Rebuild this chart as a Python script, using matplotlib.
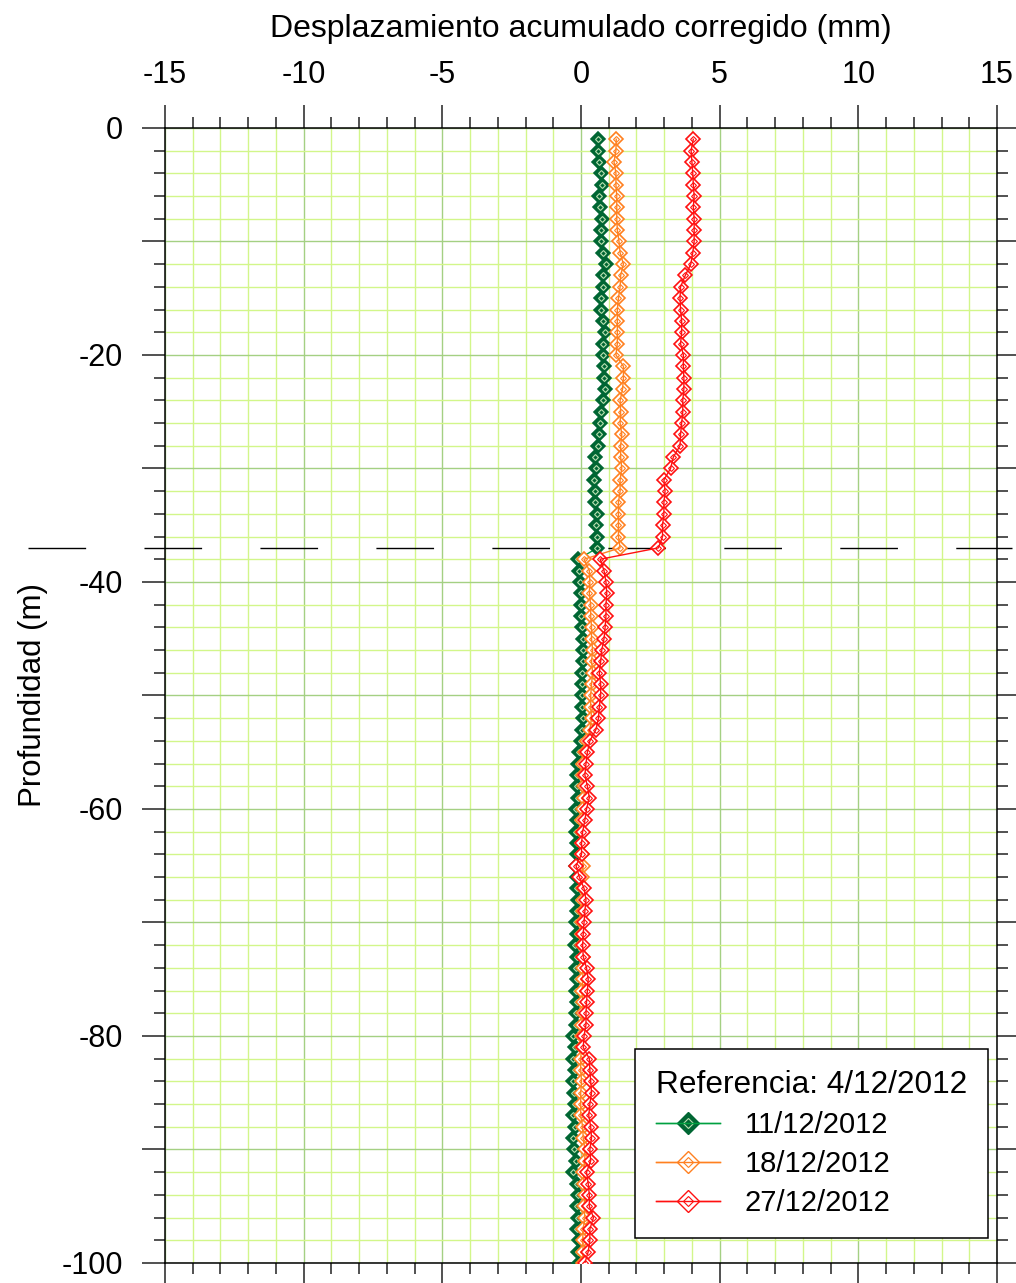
#!/usr/bin/env python

import numpy as np
import matplotlib as mpl
import matplotlib.pyplot as plt
from matplotlib.lines import Line2D
from matplotlib.ticker import MultipleLocator, FuncFormatter

mpl.rc('font', family=['Liberation Sans', 'DejaVu Sans'])
mpl.rc('axes', unicode_minus=False)

# profundidad de cada lectura (m)
depth = np.arange(-1, -101, -1)

# desplazamiento acumulado corregido (mm), de -1 m a -100 m
disp_1112 = [
    0.60, 0.60, 0.66, 0.72, 0.76, 0.66, 0.69, 0.74, 0.72, 0.72,
    0.81, 0.89, 0.81, 0.78, 0.72, 0.72, 0.78, 0.87, 0.81, 0.78,
    0.82, 0.82, 0.87, 0.78, 0.71, 0.69, 0.65, 0.63, 0.51, 0.54,
    0.48, 0.51, 0.51, 0.57, 0.54, 0.57, 0.59, -0.10, -0.06, -0.03,
    -0.01, -0.01, -0.01, 0.02, 0.06, 0.06, 0.06, 0.02, 0.02, 0.02,
    0.02, 0.06, 0.02, -0.01, -0.06, -0.10, -0.16, -0.13, -0.10, -0.18,
    -0.13, -0.18, -0.13, -0.16, -0.18, -0.13, -0.16, -0.10, -0.13, -0.18,
    -0.16, -0.22, -0.13, -0.18, -0.16, -0.18, -0.16, -0.18, -0.18, -0.28,
    -0.22, -0.28, -0.22, -0.28, -0.25, -0.22, -0.28, -0.22, -0.28, -0.25,
    -0.18, -0.28, -0.16, -0.10, -0.13, -0.10, -0.13, -0.06, -0.10, -0.06,
]

disp_1812 = [
    1.27, 1.26, 1.19, 1.26, 1.26, 1.29, 1.29, 1.29, 1.31, 1.37,
    1.41, 1.53, 1.43, 1.41, 1.35, 1.31, 1.31, 1.31, 1.31, 1.26,
    1.53, 1.53, 1.50, 1.41, 1.43, 1.41, 1.47, 1.43, 1.43, 1.47,
    1.41, 1.41, 1.35, 1.35, 1.35, 1.35, 1.41, 0.11, 0.30, 0.32,
    0.30, 0.35, 0.35, 0.38, 0.38, 0.42, 0.38, 0.42, 0.38, 0.35,
    0.35, 0.38, 0.32, 0.22, 0.14, 0.08, 0.06, 0.10, 0.12, 0.08,
    0.04, 0.02, 0.02, 0.04, 0.08, 0.04, 0.06, 0.08, 0.06, 0.04,
    0.02, 0.04, 0.06, 0.08, 0.06, 0.04, 0.06, 0.06, 0.02, 0.02,
    0.02, -0.01, -0.01, 0.02, -0.01, -0.01, -0.01, 0.06, 0.08, 0.14,
    0.14, 0.08, 0.11, 0.14, 0.11, 0.14, 0.08, 0.06, 0.08, 0.06,
]

disp_2712 = [
    4.05, 3.97, 4.00, 4.03, 4.05, 4.08, 4.05, 4.08, 4.08, 4.08,
    4.03, 3.96, 3.76, 3.59, 3.57, 3.59, 3.63, 3.63, 3.59, 3.69,
    3.69, 3.71, 3.71, 3.67, 3.67, 3.63, 3.59, 3.57, 3.33, 3.23,
    2.99, 3.03, 2.99, 2.99, 2.94, 2.94, 2.79, 0.69, 0.83, 0.90,
    0.93, 0.90, 0.90, 0.87, 0.83, 0.75, 0.71, 0.66, 0.71, 0.71,
    0.66, 0.63, 0.54, 0.32, 0.23, 0.18, 0.14, 0.23, 0.30, 0.20,
    0.14, 0.06, 0.02, 0.02, -0.18, -0.06, 0.11, 0.18, 0.14, 0.11,
    0.08, 0.06, 0.08, 0.20, 0.26, 0.23, 0.20, 0.18, 0.18, 0.11,
    0.08, 0.30, 0.32, 0.35, 0.38, 0.32, 0.28, 0.35, 0.38, 0.32,
    0.35, 0.20, 0.26, 0.30, 0.30, 0.45, 0.32, 0.32, 0.26, 0.14,
]

labels = ['11/12/2012', '18/12/2012', '27/12/2012']
ref_label = 'Referencia: 4/12/2012'
break_depth = -37.0


def main() -> None:

    fig = plt.figure(figsize=(10.16, 12.83), dpi=100)
    ax = fig.add_axes([0.1624, 0.0156, 0.8189, 0.8847])

    dark_green = '#006633'
    series = [
        # datos, color línea, color marcador, relleno, zorder
        (disp_1112, '#00a040', dark_green, dark_green, 3),
        (disp_1812, '#ff8020', '#ff8020', 'white', 4),
        (disp_2712, '#ff1010', '#ff1010', 'white', 5),
    ]

    handles = []
    for (vals, lcol, mcol, fcol, z), lab in zip(series, labels):
        filled = fcol == dark_green
        inner_edge = '#b8e0b0' if filled else mcol
        if filled:
            ax.plot(vals, depth, lw=1, color=lcol, zorder=z)
        ax.plot(vals, depth, ls='none', marker='D', ms=6.8,
                mfc=fcol, mec=mcol, mew=1.2, zorder=z + 0.1)
        ax.plot(vals, depth, ls='none', marker='D', ms=3.0,
                mfc=fcol, mec=inner_edge, mew=0.8, zorder=z + 0.2)
        if not filled:
            ax.plot(vals, depth, lw=1, color=lcol, zorder=z + 0.3)

        # muestra de la leyenda
        h_line = Line2D([], [], lw=1, color=lcol)
        h_out = Line2D([], [], ls='none', marker='D', ms=11,
                       mfc=fcol, mec=mcol, mew=1.0)
        h_in = Line2D([], [], ls='none', marker='D', ms=5.5,
                      mfc=fcol, mec=inner_edge, mew=0.8)
        h_mid = Line2D([], [], lw=1, color=lcol)
        handles.append((h_line, h_out, h_in, h_mid))

    # línea discontinua de la corrección
    ax.plot(
        [-19.94, 15.54],
        [break_depth, break_depth],
        color='k',
        lw=1.0,
        dashes=(41.5, 42.0),
        clip_on=False,
        zorder=2,
    )

    ax.set_xlim(-15, 15)
    ax.set_ylim(-100, 0)

    ax.xaxis.set_major_locator(MultipleLocator(5))
    ax.xaxis.set_minor_locator(MultipleLocator(1))
    ax.yaxis.set_major_locator(MultipleLocator(10))
    ax.yaxis.set_minor_locator(MultipleLocator(2))
    ax.yaxis.set_major_formatter(
        FuncFormatter(lambda v, p: f'{v:.0f}' if round(v) % 20 == 0 else ''))

    ax.set_axisbelow(True)
    ax.grid(which='minor', color='#d2f68a', lw=1.0)
    ax.grid(which='major', color='#a4d083', lw=1.0)

    ax.tick_params(which='both', direction='out', top=True, bottom=True,
                   left=True, right=True, labeltop=True, labelbottom=False,
                   color='#222222', width=1.1, labelsize=22)
    ax.tick_params(which='major', length=16.5)
    ax.tick_params(which='minor', length=8)
    ax.tick_params(axis='x', pad=10.5)
    ax.tick_params(axis='y', pad=13.5)

    for sp in ax.spines.values():
        sp.set_linewidth(1.1)
        sp.set_color('k')

    ax.xaxis.set_label_position('top')
    ax.set_xlabel('Desplazamiento acumulado corregido (mm)',
                  fontsize=23, labelpad=16.5)
    ax.set_ylabel('Profundidad (m)', fontsize=22.5, labelpad=10)

    leg = ax.legend(
        handles,
        labels,
        title=ref_label,
        title_fontsize=22.8,
        fontsize=21,
        loc='lower right',
        bbox_to_anchor=(0.989, 0.022),
        borderaxespad=0,
        fancybox=False,
        framealpha=1,
        edgecolor='k',
        handlelength=2.2,
        handletextpad=0.85,
        borderpad=0.72,
        labelspacing=0.38,
        handler_map={tuple: mpl.legend_handler.HandlerTuple(ndivide=1)},
    )
    leg._legend_box.align = 'left'
    leg.get_frame().set_linewidth(1.1)
    leg.set_zorder(10)

    fig.savefig('out.png', dpi=100)


if __name__ == '__main__':
    main()
